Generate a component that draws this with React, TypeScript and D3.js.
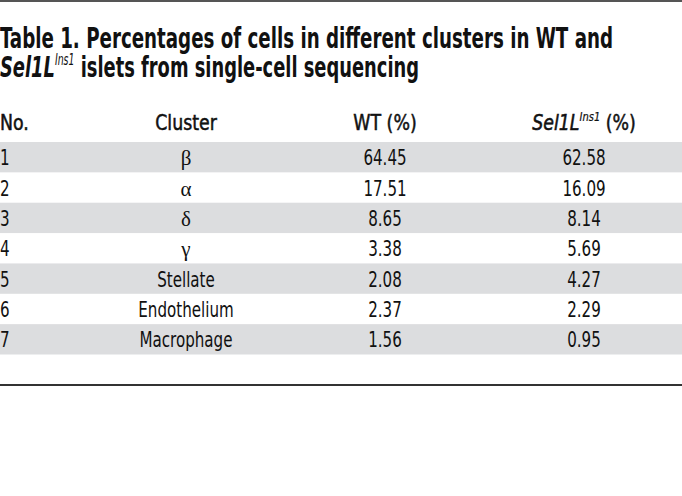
import React from "react";
import * as d3 from "d3";

const nos = ["1", "2", "3", "4", "5", "6", "7"];
const clusters = ["β", "α", "δ", "γ", "Stellate", "Endothelium", "Macrophage"];
const wtValues = ["64.45", "17.51", "8.65", "3.38", "2.08", "2.37", "1.56"];
const selValues = ["62.58", "16.09", "8.14", "5.69", "4.27", "2.29", "0.95"];
const greek = new Set(["β", "α", "δ", "γ"]);

const W = 682;
const H = 496;
const FONT = "'DejaVu Sans Condensed', 'DejaVu Sans', sans-serif";

export default function App() {
  const y = d3.scaleBand<string>().domain(nos).range([142, 354.5]).padding(0);
  const colX = d3
    .scaleOrdinal<string, number>()
    .domain(["no", "cluster", "wt", "sel"])
    .range([0, 186, 385, 584]);

  const T = (props: any) => {
    const { x, y: yy, anchor, sx = 0.8, children, ...rest } = props;
    return (
      <text
        transform={`translate(${x},${yy}) scale(${sx},1)`}
        textAnchor={anchor || "start"}
        fontFamily={FONT}
        fontStretch="condensed"
        {...rest}
      >
        {children}
      </text>
    );
  };

  return (
    <svg
      width={W}
      height={H}
      style={{ position: "absolute", left: 0, top: 0, background: "#fff" }}
    >
      <line x1={0} x2={W} y1={1} y2={1} stroke="#555" strokeWidth={2} />
      <text
        x={0}
        y={48}
        fontSize={28.5}
        fontWeight="bold"
        fill="#111"
        fontFamily={FONT}
        fontStretch="condensed"
        textLength={613}
        lengthAdjust="spacingAndGlyphs"
      >
        Table 1. Percentages of cells in different clusters in WT and
      </text>
      <text
        x={0}
        y={77}
        fontSize={28.5}
        fontWeight="bold"
        fill="#111"
        fontFamily={FONT}
        fontStretch="condensed"
        textLength={419}
        lengthAdjust="spacingAndGlyphs"
      >
        <tspan fontStyle="italic">Sel1L</tspan>
        <tspan fontStyle="italic" fontSize={15} dy={-12} fontWeight="normal">
          Ins1
        </tspan>
        <tspan dy={12}> islets from single-cell sequencing</tspan>
      </text>

      <T x={colX("no")} y={130} fontSize={21} fill="#111" stroke="#111" strokeWidth={0.5} sx={0.92}>
        No.
      </T>
      <T x={colX("cluster")} y={130} fontSize={21} fill="#111" stroke="#111" strokeWidth={0.5} anchor="middle" sx={0.92}>
        Cluster
      </T>
      <T x={colX("wt")} y={130} fontSize={21} fill="#111" stroke="#111" strokeWidth={0.5} anchor="middle" sx={0.92}>
        WT (%)
      </T>
      <T x={colX("sel")} y={130} fontSize={21} fill="#111" stroke="#111" strokeWidth={0.5} anchor="middle" sx={0.92}>
        <tspan fontStyle="italic">Sel1L</tspan>
        <tspan fontStyle="italic" fontSize={12} dy={-9} strokeWidth={0.2}>
          Ins1
        </tspan>
        <tspan dy={9}> (%)</tspan>
      </T>

      {nos.map((n, i) => {
        const top = y(n) as number;
        const base = top + y.bandwidth() / 2 + 8;
        return (
          <g key={n}>
            {i % 2 === 0 && (
              <rect x={0} y={top} width={W} height={y.bandwidth()} fill="#dcdddf" />
            )}
            <T x={colX("no")} y={base} fontSize={21} fill="#111">
              {n}
            </T>
            {greek.has(clusters[i]) ? (
              <text
                x={colX("cluster")}
                y={base}
                textAnchor="middle"
                fontFamily="'Liberation Serif', 'DejaVu Serif', serif"
                fontSize={21}
                fill="#111"
              >
                {clusters[i]}
              </text>
            ) : (
              <T x={colX("cluster")} y={base} fontSize={21} fill="#111" anchor="middle">
                {clusters[i]}
              </T>
            )}
            <T x={colX("wt")} y={base} fontSize={21} fill="#111" anchor="middle">
              {wtValues[i]}
            </T>
            <T x={colX("sel")} y={base} fontSize={21} fill="#111" anchor="middle">
              {selValues[i]}
            </T>
          </g>
        );
      })}

      <line x1={0} x2={W} y1={385} y2={385} stroke="#333" strokeWidth={2} />
    </svg>
  );
}
